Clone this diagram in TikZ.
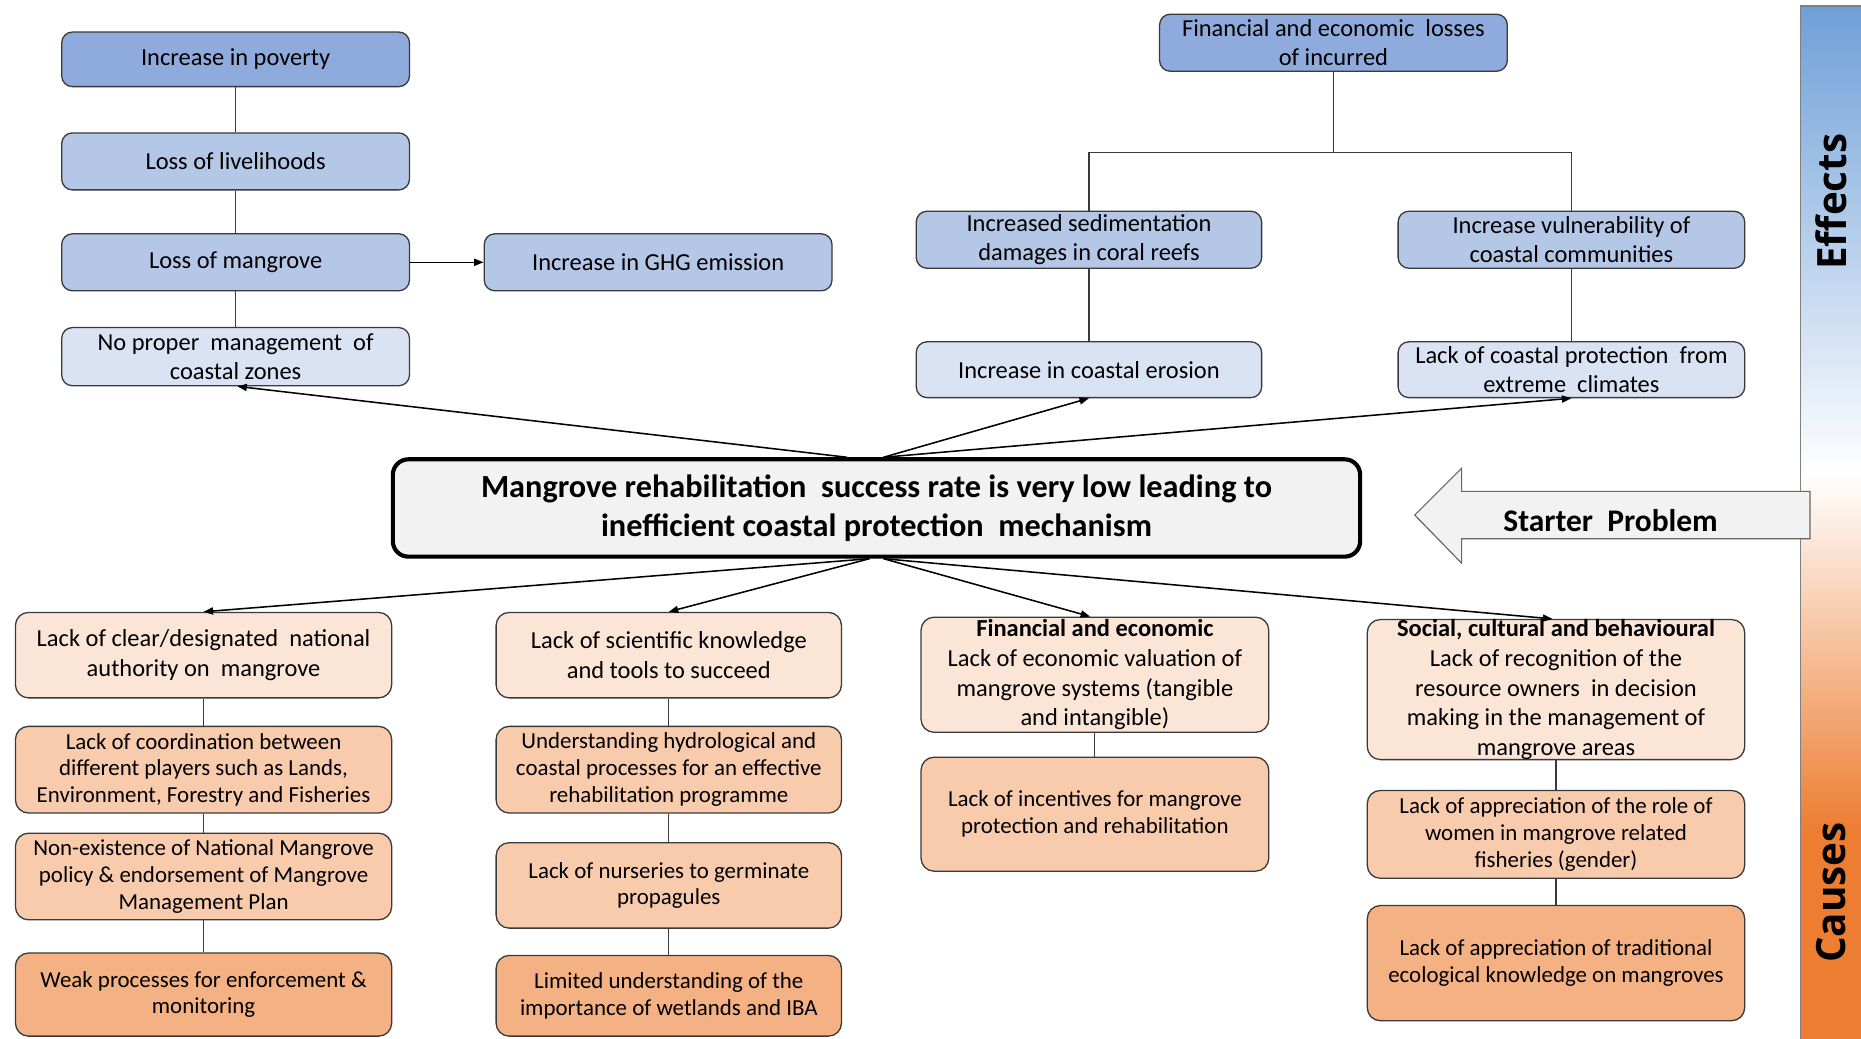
\documentclass[tikz,border=0pt]{standalone}
\usepackage{fontspec}
\setmainfont{Carlito}
\newfontfamily\sidefont{Open Sans}
\usetikzlibrary{arrows.meta,calc}

% box fills
\definecolor{bD}{HTML}{8FAADC}
\definecolor{bM}{HTML}{B4C7E7}
\definecolor{bL}{HTML}{DAE3F3}
\definecolor{oL}{HTML}{FBE5D6}
\definecolor{oM}{HTML}{F8CBAD}
\definecolor{oD}{HTML}{F4B183}
\definecolor{coreFill}{HTML}{F2F2F2}
\definecolor{barBlue}{HTML}{6E9FD8}
\definecolor{barOrange}{HTML}{ED7D31}
\definecolor{edge}{HTML}{3A3A3A}

\newcommand\fEff{\fontsize{20.6}{24.5}\selectfont}
\newcommand\fTop{\fontsize{20.6}{25}\selectfont}
\newcommand\fSub{\fontsize{19.3}{22.5}\selectfont}

\tikzset{
  card/.style={draw=edge, line width=1.1pt, rounded corners=9pt, align=center,
    inner sep=0pt, font=\fEff},
  effbox/.style={card, minimum width=293pt, minimum height=48pt},
  cbox/.style={card, rounded corners=11pt},
  link/.style={draw=edge, line width=1pt},
  cause/.style={draw=black, line width=1.3pt, -{Triangle[length=8pt,width=6pt]}},
}

\begin{document}
\begin{tikzpicture}[x=1pt,y=-1pt]
\useasboundingbox (0,0) rectangle (1568,875);
\fill[white] (0,0) rectangle (1568,875);

% side bar with effect/cause gradient
\shade[top color=barBlue, bottom color=white] (1517,5) rectangle (1568,400);
\shade[top color=white, bottom color=barOrange] (1517,399.5) rectangle (1568,700);
\fill[barOrange] (1517,699.5) rectangle (1568,875);
\draw[gray, line width=1pt] (1517,875) -- (1517,5) -- (1568,5);
\node[rotate=90, font=\sidefont\bfseries\fontsize{34}{36}\selectfont] (eff) at (1543,170) {Effects};
\node[rotate=90, font=\sidefont\bfseries\fontsize{34}{36}\selectfont] (cau) at (1543,752) {Causes};

% effects, left branch
\node[effbox, fill=bD, minimum height=46pt] (pov) at (198.5,50) {Increase in poverty};
\node[effbox, fill=bM] (liv) at (198.5,136) {Loss of livelihoods};
\node[effbox, fill=bM] (mang) at (198.5,221) {Loss of mangrove};
\node[effbox, fill=bL, minimum height=49pt] (nopm) at (198.5,300.5) {No proper \ management \ of\\coastal zones};
\node[effbox, fill=bM] (ghg) at (554.5,221) {Increase in GHG emission};

\draw[link] (pov.south) -- (liv.north);
\draw[link] (liv.south) -- (mang.north);
\draw[link] (mang.south) -- (nopm.north);
\draw[cause] (mang.east) -- (ghg.west);

% effects, right branch
\node[effbox, fill=bD] (finloss) at (1123.5,36) {Financial and economic \ losses\\of incurred};
\node[effbox, fill=bM, minimum width=291pt] (sed) at (917.5,202) {Increased sedimentation\\damages in coral reefs};
\node[effbox, fill=bM, minimum width=292pt] (vul) at (1324,202) {Increase vulnerability of\\coastal communities};
\node[effbox, fill=bL, minimum width=291pt, minimum height=47pt] (ero) at (917.5,311.5) {Increase in coastal erosion};
\node[effbox, fill=bL, minimum width=292pt, minimum height=47pt] (prot) at (1324,311.5) {Lack of coastal protection \ from\\extreme \ climates};

\draw[link] (finloss.south) -- ++(0,68) coordinate (fj);
\draw[link] (sed.north) |- (fj) -| (vul.north);
\draw[link] (sed.south) -- (ero.north);
\draw[link] (vul.south) -- (prot.north);

% starter problem
\node[draw=black, line width=3.5pt, rounded corners=13pt, fill=coreFill,
  minimum width=815pt, minimum height=82pt, align=center,
  font=\bfseries\fontsize{27.2}{33}\selectfont] (core) at (738.5,428)
  {Mangrove rehabilitation \ success rate is very low leading to\\inefficient coastal protection \ mechanism};

\draw[draw=gray!80!black, line width=1pt, fill=coreFill]
  (1525,414) -- (1231.5,414) -- (1231.5,394.5) -- (1192,434) -- (1231.5,474.5)
  -- (1231.5,454) -- (1525,454) -- cycle;
\node[font=\bfseries\fontsize{26.5}{28}\selectfont] (starter) at (1357,439) {Starter \ Problem};

% arrows towards the effects
\coordinate (up1) at ($(core.north)+(-25,0)$);
\coordinate (up2) at ($(core.north)+(6,0)$);
\draw[cause] (up1) -- ($(nopm.south)+(1.5,0)$);
\draw[cause] (up2) -- (ero.south);
\draw[cause] (up2) -- (prot.south);

% causes, column 1
\node[cbox, fill=oL, font=\fTop, minimum width=317pt, minimum height=72pt] (c1a) at (171.5,552)
  {Lack of clear/designated \ national\\authority on \ mangrove};
\node[cbox, fill=oM, font=\fSub, minimum width=317pt, minimum height=73pt] (c1b) at (171.5,648.5)
  {Lack of coordination between\\different players such as Lands,\\Environment, Forestry and Fisheries};
\node[cbox, fill=oM, font=\fSub, minimum width=317pt, minimum height=73pt] (c1c) at (171.5,738.5)
  {Non-existence of National Mangrove\\policy \& endorsement of Mangrove\\Management Plan};
\node[cbox, fill=oD, font=\fSub, minimum width=317pt, minimum height=70pt] (c1d) at (171.5,838)
  {Weak processes for enforcement \&\\monitoring};
\draw[link] (c1a.south) -- (c1b.north);
\draw[link] (c1b.south) -- (c1c.north);
\draw[link] (c1c.south) -- (c1d.north);

% causes, column 2
\node[cbox, fill=oL, font=\fTop, minimum width=291pt, minimum height=72pt] (c2a) at (563.5,552)
  {Lack of scientific knowledge\\and tools to succeed};
\node[cbox, fill=oM, font=\fSub, minimum width=291pt, minimum height=73pt] (c2b) at (563.5,648.5)
  {Understanding hydrological and\\coastal processes for an effective\\rehabilitation programme};
\node[cbox, fill=oM, font=\fSub, minimum width=291pt, minimum height=72pt] (c2c) at (563.5,746)
  {Lack of nurseries to germinate\\propagules};
\node[cbox, fill=oD, font=\fSub, minimum width=291pt, minimum height=68pt] (c2d) at (563.5,839)
  {Limited understanding of the\\importance of wetlands and IBA};
\draw[link] (c2a.south) -- (c2b.north);
\draw[link] (c2b.south) -- (c2c.north);
\draw[link] (c2c.south) -- (c2d.north);

% causes, column 3
\node[cbox, fill=oL, font=\fTop, minimum width=293pt, minimum height=97pt] (c3a) at (922.5,568.5)
  {\textbf{Financial and economic}\\Lack of economic valuation of\\mangrove systems (tangible\\and intangible)};
\node[cbox, fill=oM, font=\fSub, minimum width=293pt, minimum height=96pt] (c3b) at (922.5,686)
  {Lack of incentives for mangrove\\protection and rehabilitation};
\draw[link] (c3a.south) -- (c3b.north);

% causes, column 4
\node[cbox, fill=oL, font=\fTop, minimum width=318pt, minimum height=114pt] (c4a) at (1311,581)
  {\textbf{Social, cultural and behavioural}\\Lack of recognition of the\\resource owners \ in decision\\making in the management of\\mangrove areas};
\node[cbox, fill=oM, font=\fSub, minimum width=318pt, minimum height=74pt] (c4b) at (1311,703)
  {Lack of appreciation of the role of\\women in mangrove related\\fisheries (gender)};
\node[cbox, fill=oD, font=\fSub, minimum width=318pt, minimum height=97pt] (c4c) at (1311,811.5)
  {Lack of appreciation of traditional\\ecological knowledge on mangroves};
\draw[link] (c4a.south) -- (c4b.north);
\draw[link] (c4b.south) -- (c4c.north);

% arrows towards the causes
\coordinate (dn1) at ($(core.south)+(-6,0)$);
\coordinate (dn2) at ($(core.south)+(6,0)$);
\draw[cause] (dn1) -- (c1a.north);
\draw[cause] (dn1) -- (c2a.north);
\draw[cause] (dn2) -- ($(c3a.north)+(-4,0)$);
\draw[cause] (dn2) -- ($(c4a.north)+(-3,0)$);
\end{tikzpicture}
\end{document}
